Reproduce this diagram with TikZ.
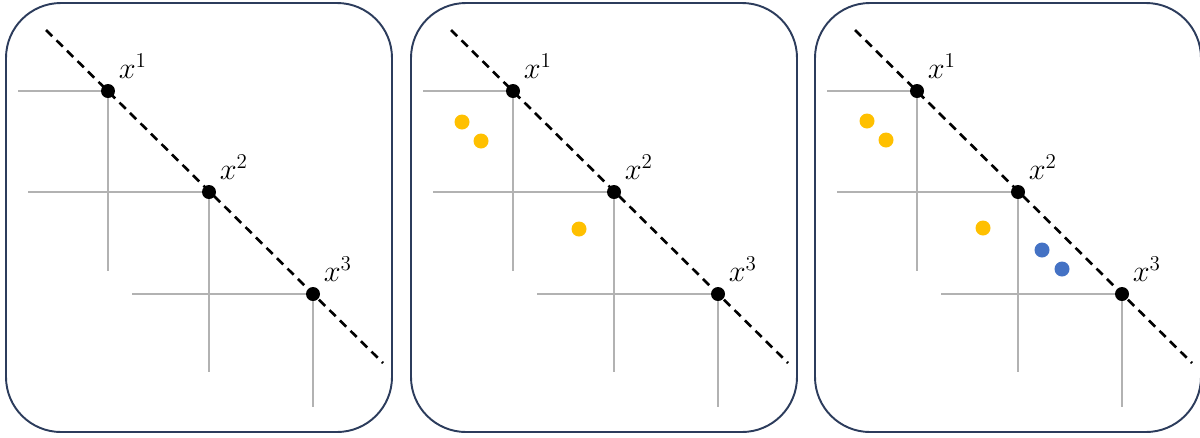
\documentclass[tikz,border=0pt]{standalone}
\usepackage{amsmath, amssymb}
\usepackage{tikz}
\usepackage{xcolor}
\usetikzlibrary{positioning}

\definecolor{framecol}{RGB}{44,60,92}
\definecolor{gold}{RGB}{255,192,0}
\definecolor{steel}{RGB}{68,114,196}

\begin{document}
\begin{tikzpicture}[x=0.02cm, y=-0.02cm,
    frame/.style={draw=framecol, line width=1.1pt, rounded corners=1.1cm},
    guide/.style={draw=gray!60, line width=0.6pt},
    diag/.style={draw=black, line width=1.5pt, dash pattern=on 5pt off 3.4pt},
    pt/.style={circle, fill=black, inner sep=0pt, minimum size=0.28cm},
    sample/.style={circle, fill=#1, inner sep=0pt, minimum size=0.3cm},
    lab/.style={inner sep=0pt, font=\LARGE}]
    \useasboundingbox (0,0) rectangle (1200,437);

    \def\drawpanel#1#2{
        \begin{scope}[shift={(#1,0)}]
            \draw[frame] (6,3) rectangle (392,432);
            \coordinate (#2top) at (46,30);
            \coordinate (#2bot) at (383,363);
            \draw[diag] (#2top) -- (#2bot);
            \node[pt] (#2a) at (108,91) {};
            \node[pt] (#2b) at (209,192) {};
            \node[pt] (#2c) at (313,294) {};
            \coordinate (#2ah) at (18,91);  \coordinate (#2av) at (108,271);
            \coordinate (#2bh) at (28,192); \coordinate (#2bv) at (209,372);
            \coordinate (#2ch) at (132,294); \coordinate (#2cv) at (313,407);
            \draw[guide] (#2ah) -- (#2a.west); \draw[guide] (#2a.south) -- (#2av);
            \draw[guide] (#2bh) -- (#2b.west); \draw[guide] (#2b.south) -- (#2bv);
            \draw[guide] (#2ch) -- (#2c.west); \draw[guide] (#2c.south) -- (#2cv);
            \node[lab, above right=4pt and 3pt of #2a] {$x^{1}$};
            \node[lab, above right=4pt and 3pt of #2b] {$x^{2}$};
            \node[lab, above right=4pt and 3pt of #2c] {$x^{3}$};
        \end{scope}
    }

    \drawpanel{0}{l}
    \drawpanel{405}{m}
    \drawpanel{809}{r}

    % samples, middle panel
    \node[sample=gold] (m1) at (462,122) {};
    \node[sample=gold] (m2) at (481,141) {};
    \node[sample=gold] (m3) at (579,229) {};

    % samples, right panel
    \node[sample=gold] (r1) at (867,121) {};
    \node[sample=gold] (r2) at (886,140) {};
    \node[sample=gold] (r3) at (983,228) {};
    \node[sample=steel] (r4) at (1042,250) {};
    \node[sample=steel] (r5) at (1062,269) {};
\end{tikzpicture}
\end{document}
